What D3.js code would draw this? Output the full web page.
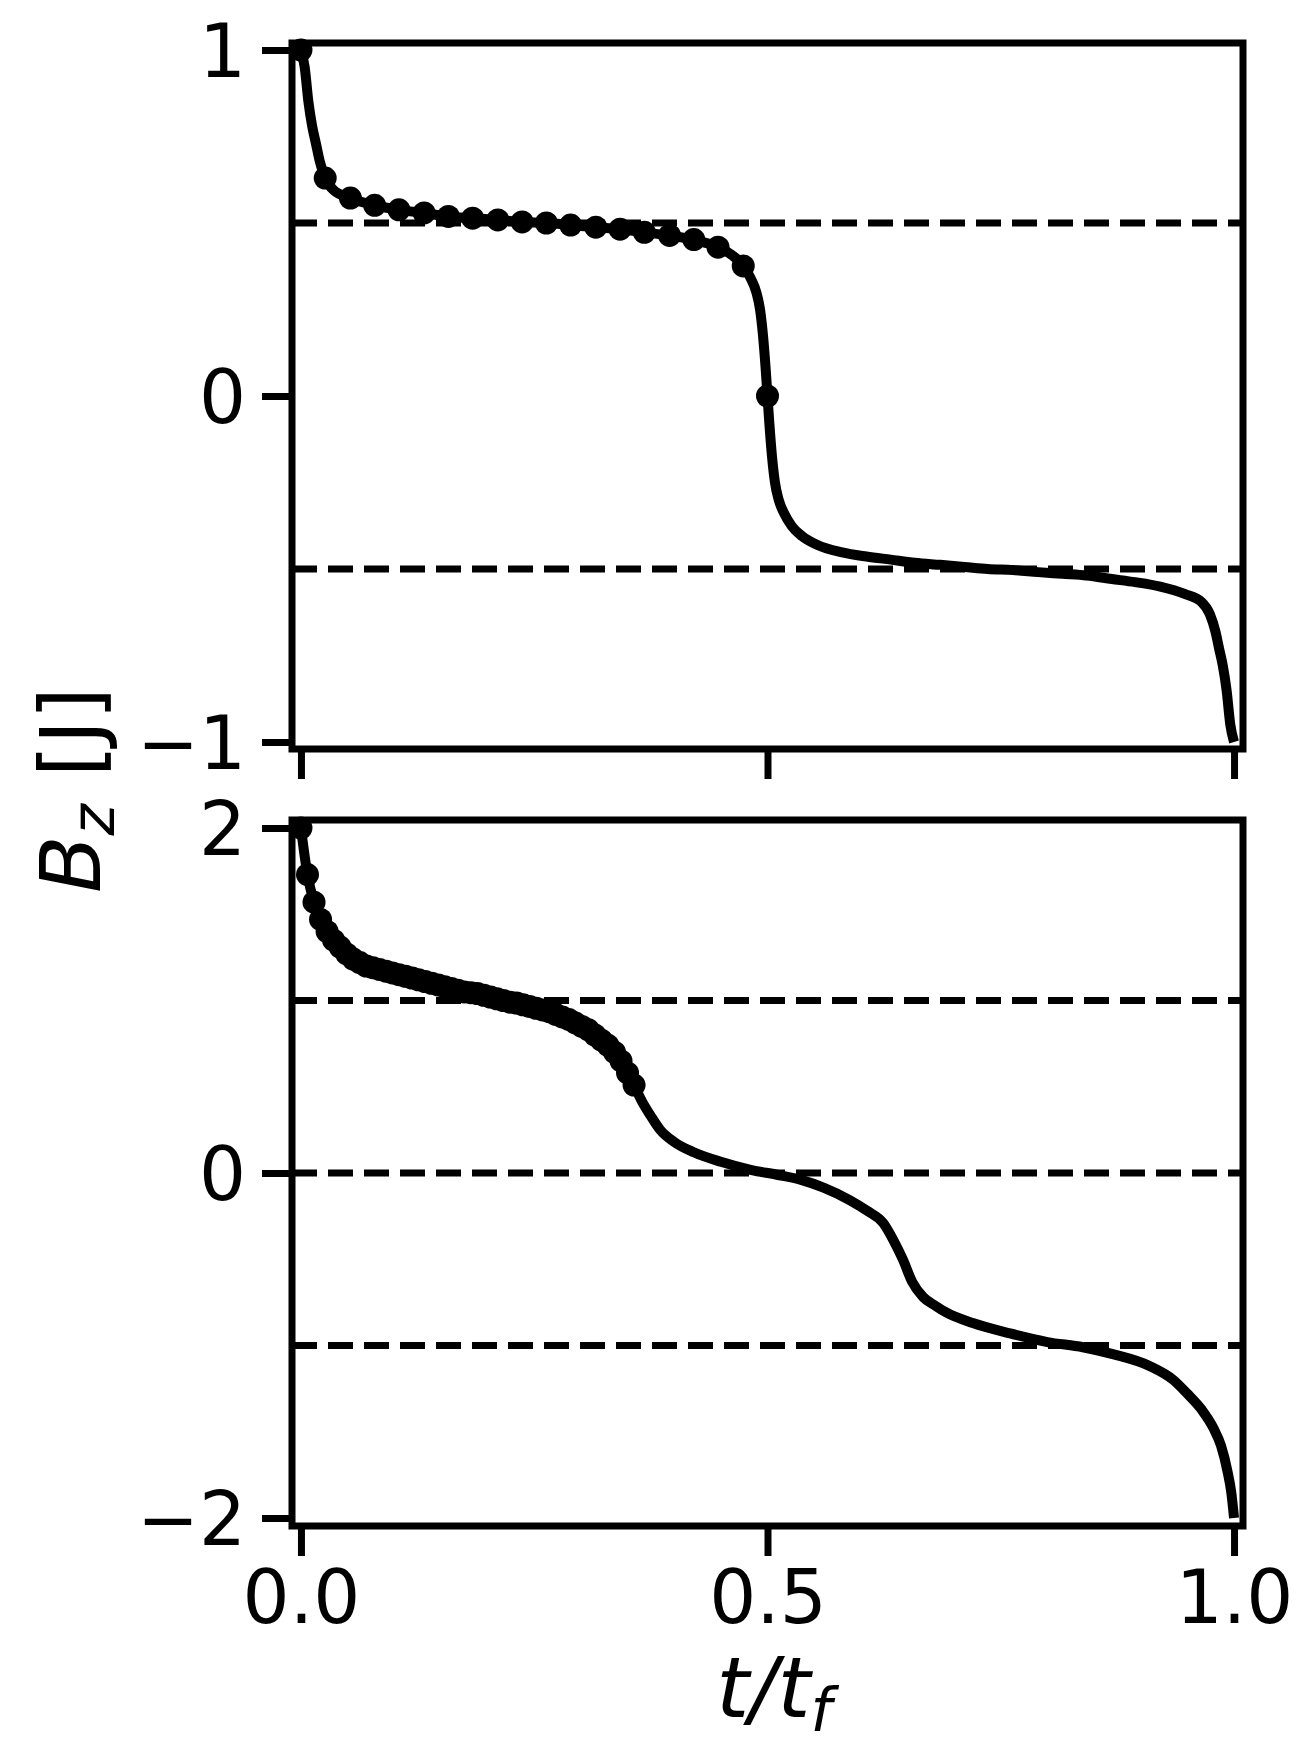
<!DOCTYPE html>
<html>
<head>
<meta charset="utf-8">
<script src="https://cdn.jsdelivr.net/npm/d3@7"></script>
<style>
  body { margin: 0; background: #fff; }
  text { font-family: "DejaVu Sans", sans-serif; fill: #000; }
</style>
</head>
<body>
<svg id="chart" width="1311" height="1761"></svg>
<script>
// top panel: line and markers
var top_t = [0, 0.004, 0.008, 0.012, 0.016, 0.02, 0.026, 0.035, 0.053, 0.079, 0.106, 0.131, 0.158, 0.184, 0.21, 0.237, 0.264, 0.289, 0.315, 0.342, 0.368, 0.394, 0.42, 0.447, 0.463, 0.474, 0.482, 0.488, 0.492, 0.495, 0.498, 0.5,
  0.502, 0.505, 0.508, 0.512, 0.518, 0.526, 0.537, 0.553, 0.58, 0.606, 0.632, 0.658, 0.685, 0.711, 0.736, 0.763, 0.79, 0.816, 0.842, 0.869, 0.894, 0.921, 0.947, 0.965, 0.974, 0.98, 0.984, 0.988, 0.992, 0.996, 1];
var top_b = [1, 0.95, 0.85, 0.78, 0.73, 0.68, 0.63, 0.595, 0.572, 0.551, 0.538, 0.529, 0.519, 0.514, 0.509, 0.503, 0.5, 0.494, 0.488, 0.482, 0.473, 0.464, 0.452, 0.43, 0.405, 0.376, 0.34, 0.3, 0.25, 0.18, 0.08, 0,
  -0.08, -0.18, -0.25, -0.3, -0.34, -0.376, -0.405, -0.43, -0.452, -0.464, -0.473, -0.482, -0.488, -0.494, -0.5, -0.503, -0.509, -0.514, -0.519, -0.529, -0.538, -0.551, -0.572, -0.595, -0.63, -0.68, -0.73, -0.78, -0.85, -0.95, -1];
var top_mark_t = [0, 0.026, 0.053, 0.079, 0.105, 0.132, 0.158, 0.184, 0.211, 0.237, 0.263, 0.289, 0.316, 0.342, 0.368, 0.395, 0.421, 0.447, 0.474, 0.5];
var top_mark_b = [1, 0.63, 0.572, 0.551, 0.538, 0.529, 0.519, 0.514, 0.509, 0.503, 0.5, 0.494, 0.488, 0.482, 0.473, 0.464, 0.452, 0.43, 0.376, 0];
var top_hlines = [0.5, -0.5];
var top_ticks = [-1, 0, 1];

// bottom panel: markers, then the rest of the line
var bot_mark_t = [0, 0.007, 0.014, 0.021, 0.028, 0.035, 0.042, 0.049, 0.056, 0.063, 0.07, 0.077, 0.084, 0.091, 0.098, 0.105, 0.112, 0.119, 0.126, 0.133, 0.14, 0.147, 0.154, 0.161, 0.168, 0.175, 0.182, 0.189, 0.196, 0.203, 0.21, 0.217, 0.224, 0.231, 0.238, 0.245, 0.252, 0.259, 0.266, 0.273, 0.28, 0.287, 0.294, 0.301, 0.308, 0.315, 0.322, 0.329, 0.336, 0.343, 0.35, 0.357];
var bot_mark_b = [2, 1.73, 1.57, 1.47, 1.4, 1.35, 1.31, 1.27, 1.24, 1.22, 1.2, 1.19, 1.18, 1.17, 1.16, 1.15, 1.14, 1.13, 1.12, 1.11, 1.1, 1.09, 1.08, 1.07, 1.06, 1.05, 1.045, 1.04, 1.03, 1.02, 1.01, 1.0, 0.99, 0.985, 0.975, 0.965, 0.955, 0.945, 0.935, 0.92, 0.905, 0.89, 0.87, 0.85, 0.83, 0.8, 0.77, 0.74, 0.7, 0.65, 0.58, 0.51];
var bot_tail_t = [0.365, 0.375, 0.385, 0.4, 0.421, 0.45, 0.483, 0.51, 0.536, 0.56, 0.588, 0.607, 0.624, 0.635, 0.645, 0.655, 0.667, 0.68, 0.692, 0.72, 0.76, 0.8, 0.838, 0.87, 0.91, 0.935, 0.95, 0.965, 0.978, 0.986, 0.993, 0.997, 1];
var bot_tail_b = [0.42, 0.33, 0.25, 0.18, 0.12, 0.065, 0.017, -0.01, -0.04, -0.085, -0.157, -0.22, -0.29, -0.39, -0.5, -0.63, -0.72, -0.77, -0.81, -0.87, -0.93, -0.98, -1.01, -1.05, -1.12, -1.2, -1.28, -1.37, -1.48, -1.58, -1.73, -1.85, -2];
var bot_hlines = [1, 0, -1];
var bot_ticks = [-2, 0, 2];

var x_ticks = [0, 0.5, 1];

var svg = d3.select("#chart");
var left = 292, right = 1243;
var x = d3.scaleLinear().domain([-0.0096, 1.0096]).range([left, right]);

function zip(a, b) {
  return a.map(function(v, i) { return [v, b[i]]; });
}

function draw_panel(opts) {
  var y = d3.scaleLinear().domain(opts.ydom).range([opts.ytop + opts.pad, opts.ybot - opts.pad]);
  var g = svg.append("g");

  g.selectAll(".hline").data(opts.hlines).enter().append("line")
      .attr("x1", left).attr("x2", right)
      .attr("y1", function(d) { return y(d); })
      .attr("y2", function(d) { return y(d); })
      .attr("stroke", "#000").attr("stroke-width", 7)
      .attr("stroke-dasharray", "25,11");

  var line = d3.line()
      .x(function(d) { return x(d[0]); })
      .y(function(d) { return y(d[1]); })
      .curve(d3.curveMonotoneX);

  g.append("path").datum(opts.line)
      .attr("fill", "none").attr("stroke", "#000")
      .attr("stroke-width", 10).attr("stroke-linejoin", "round")
      .attr("d", line);

  g.selectAll(".dot").data(opts.marks).enter().append("circle")
      .attr("cx", function(d) { return x(d[0]); })
      .attr("cy", function(d) { return y(d[1]); })
      .attr("r", 11.5).attr("fill", "#000");

  // frame
  g.append("rect")
      .attr("x", left).attr("y", opts.ytop)
      .attr("width", right - left).attr("height", opts.ybot - opts.ytop)
      .attr("fill", "none").attr("stroke", "#000").attr("stroke-width", 7);

  var yAxis = d3.axisLeft(y).tickValues(opts.yticks)
      .tickSize(27).tickPadding(16)
      .tickFormat(function(d) { return d < 0 ? "\u2212" + Math.abs(d) : d; });
  var ya = g.append("g").attr("transform", "translate(" + (left - 3) + ",0)").call(yAxis);
  ya.select(".domain").remove();
  ya.selectAll("line").attr("stroke-width", 7);
  ya.selectAll("text").style("font-size", "74px").attr("dy", "0.36em");

  var xAxis = d3.axisBottom(x).tickValues(x_ticks)
      .tickSize(27).tickPadding(14)
      .tickFormat(opts.xlabels ? d3.format(".1f") : function() { return ""; });
  var xa = g.append("g").attr("transform", "translate(0," + (opts.ybot + 3) + ")").call(xAxis);
  xa.select(".domain").remove();
  xa.selectAll("line").attr("stroke-width", 7);
  xa.selectAll("text").style("font-size", "74px").attr("dy", "0.72em");
}

draw_panel({ ytop: 43, ybot: 749, pad: 7, ydom: [1, -1], hlines: top_hlines, yticks: top_ticks,
  line: zip(top_t, top_b), marks: zip(top_mark_t, top_mark_b), xlabels: false });

draw_panel({ ytop: 820, ybot: 1526, pad: 8, ydom: [2, -2], hlines: bot_hlines, yticks: bot_ticks,
  line: zip(bot_mark_t, bot_mark_b).concat(zip(bot_tail_t, bot_tail_b)),
  marks: zip(bot_mark_t, bot_mark_b), xlabels: true });

// axis labels
var ylab = svg.append("text")
    .attr("transform", "translate(100,790) rotate(-90)")
    .attr("text-anchor", "middle")
    .style("font-size", "84px");
ylab.append("tspan").style("font-style", "italic").text("B");
ylab.append("tspan").style("font-style", "italic").style("font-size", "60px").attr("dy", 14).text("z");
ylab.append("tspan").attr("dy", -14).text(" [J]");

var xlab = svg.append("text")
    .attr("x", 774).attr("y", 1717)
    .attr("text-anchor", "middle")
    .style("font-size", "84px").style("font-style", "italic");
xlab.append("tspan").text("t/t");
xlab.append("tspan").style("font-size", "60px").attr("dy", 14).text("f");
</script>
</body>
</html>
